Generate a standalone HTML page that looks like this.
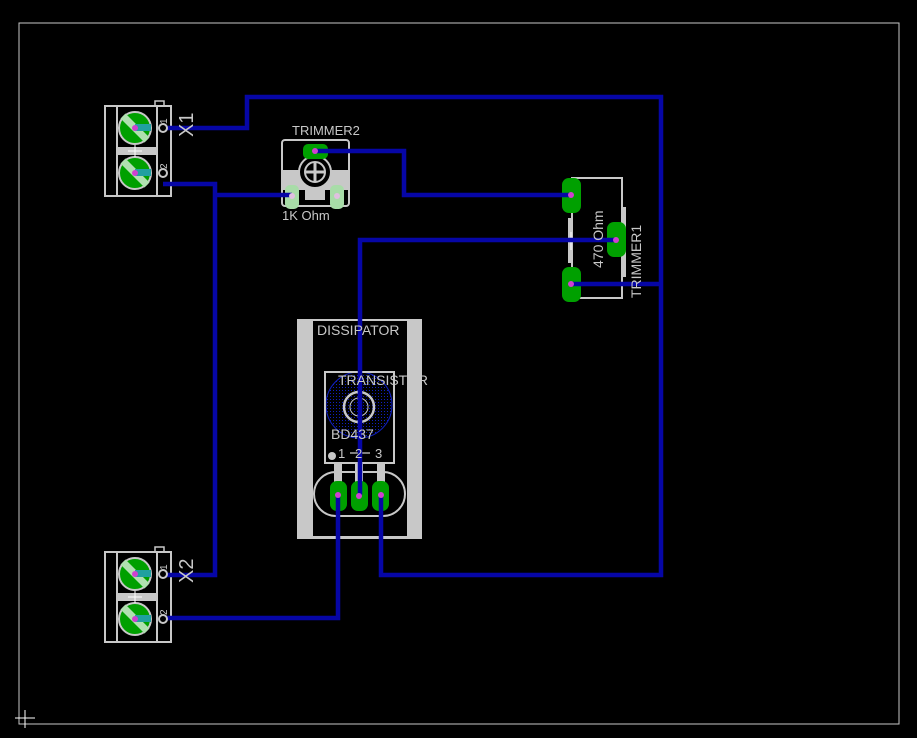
<!DOCTYPE html>
<html><head><meta charset="utf-8"><style>
html,body{margin:0;padding:0;background:#000;width:917px;height:738px;overflow:hidden}
svg{display:block}
text{font-family:"Liberation Sans",sans-serif;fill:#c8c8c8}
</style></head><body>
<svg width="917" height="738" viewBox="0 0 917 738" xmlns="http://www.w3.org/2000/svg">
<defs>
<pattern id="dots" width="3" height="3" patternUnits="userSpaceOnUse"><rect width="1" height="1" fill="#1020c0"/></pattern>
<g id="term">
  <rect x="105" y="0" width="66" height="90" fill="none" stroke="#c8c8c8" stroke-width="2"/>
  <line x1="117" y1="0" x2="117" y2="90" stroke="#c8c8c8" stroke-width="2"/>
  <line x1="157" y1="0" x2="157" y2="90" stroke="#c8c8c8" stroke-width="2"/>
  <rect x="155" y="-5" width="9" height="5" fill="none" stroke="#c8c8c8" stroke-width="1.5"/>
  <rect x="118" y="41" width="38" height="8" fill="#c8c8c8"/>
  <circle cx="135" cy="22" r="16" fill="#00a000" stroke="#c8c8c8" stroke-width="2"/>
  <circle cx="135" cy="67" r="16" fill="#00a000" stroke="#c8c8c8" stroke-width="2"/>
  <line x1="123" y1="10" x2="147" y2="34" stroke="#b0e0b0" stroke-width="7"/>
  <line x1="123" y1="55" x2="147" y2="79" stroke="#b0e0b0" stroke-width="7"/>
  <line x1="135" y1="39" x2="135" y2="51" stroke="#fff"/><line x1="128" y1="45" x2="142" y2="45" stroke="#fff"/>
  <rect x="135" y="18" width="16" height="7" fill="#20a0a0"/>
  <rect x="135" y="63" width="16" height="7" fill="#20a0a0"/>
  <circle cx="135" cy="22" r="3" fill="#d040d0"/>
  <circle cx="135" cy="67" r="3" fill="#d040d0"/>
</g>
</defs>
<rect x="19" y="23" width="880" height="701" fill="none" stroke="#c8c8c8" stroke-width="1"/>
<line x1="25" y1="710" x2="25" y2="728" stroke="#fff"/><line x1="15" y1="718" x2="35" y2="718" stroke="#fff"/>

<use href="#term" transform="translate(0,106)"/>
<use href="#term" transform="translate(0,552)"/>

<!-- trimmer2 -->
<rect x="282" y="140" width="67" height="66" rx="3" fill="none" stroke="#c8c8c8" stroke-width="2"/>
<rect x="283" y="170" width="65" height="20" fill="#c8c8c8"/>
<rect x="305" y="190" width="20" height="10" fill="#c8c8c8"/>
<circle cx="315" cy="172" r="16" fill="#000" stroke="#c8c8c8" stroke-width="2"/>
<circle cx="315" cy="172" r="10" fill="none" stroke="#c8c8c8" stroke-width="2"/>
<line x1="315" y1="162" x2="315" y2="182" stroke="#c8c8c8" stroke-width="3"/><line x1="305" y1="172" x2="325" y2="172" stroke="#c8c8c8" stroke-width="3"/>
<rect x="303" y="144" width="25" height="15" rx="5" fill="#00a000"/>
<rect x="285" y="185" width="14" height="24" rx="5" fill="#a8dca8"/>
<rect x="330" y="185" width="14" height="24" rx="5" fill="#a8dca8"/>
<text x="292" y="135" font-size="13">TRIMMER2</text>
<text x="282" y="220" font-size="13">1K Ohm</text>

<!-- trimmer1 -->
<rect x="572" y="178" width="50" height="120" fill="none" stroke="#c8c8c8" stroke-width="2"/>
<rect x="568" y="218" width="5" height="45" fill="#c8c8c8"/>
<rect x="621" y="207" width="5" height="70" fill="#c8c8c8"/>
<rect x="562" y="178" width="19" height="35" rx="7" fill="#00a000"/>
<rect x="562" y="267" width="19" height="35" rx="7" fill="#00a000"/>
<rect x="607" y="222" width="19" height="35" rx="7" fill="#00a000"/>
<line x1="563" y1="240" x2="580" y2="240" stroke="#fff"/><line x1="571" y1="232" x2="571" y2="250" stroke="#fff"/>

<!-- dissipator -->
<rect x="297" y="319" width="125" height="220" fill="#c8c8c8"/>
<rect x="313" y="321" width="94" height="215" fill="#000"/>
<circle cx="359" cy="405" r="33" fill="url(#dots)" stroke="#1020c0" stroke-width="1"/>
<rect x="325" y="372" width="69" height="91" fill="none" stroke="#c8c8c8" stroke-width="2"/>
<circle cx="359" cy="407" r="15" fill="none" stroke="#c8c8c8" stroke-width="2.5"/>
<circle cx="359" cy="407" r="9" fill="none" stroke="#c8c8c8" stroke-width="1"/>
<circle cx="332" cy="456" r="4" fill="#c8c8c8"/>
<line x1="350" y1="453" x2="370" y2="453" stroke="#fff"/>
<rect x="334" y="463" width="8" height="30" fill="#c8c8c8"/><rect x="355" y="463" width="8" height="30" fill="#c8c8c8"/><rect x="377" y="463" width="8" height="30" fill="#c8c8c8"/>
<rect x="314" y="472" width="91" height="44" rx="22" fill="none" stroke="#c8c8c8" stroke-width="2"/>
<rect x="330" y="481" width="17" height="30" rx="7" fill="#00a000"/>
<rect x="351" y="481" width="17" height="30" rx="7" fill="#00a000"/>
<rect x="372" y="481" width="17" height="30" rx="7" fill="#00a000"/>

<!-- wires -->
<g fill="none" stroke="#0606a6" stroke-width="4.5" stroke-linejoin="miter">
<polyline points="163,128 247,128 247,97 661,97 661,575 381,575 381,495"/>
<polyline points="163,184 215,184 215,575 163,575"/>
<polyline points="215,195 292,195"/>
<polyline points="315,151 404,151 404,195 571,195"/>
<polyline points="616,240 360,240 360,495"/>
<polyline points="571,284 661,284"/>
<polyline points="338,495 338,618 163,618"/>
</g>
<g fill="#000" stroke="#c8c8c8" stroke-width="2">
<circle cx="163" cy="128" r="4"/><circle cx="163" cy="173" r="4"/>
<circle cx="163" cy="574" r="4"/><circle cx="163" cy="619" r="4"/>
</g>
<g fill="#d040d0">
<circle cx="315" cy="151" r="3"/><circle cx="292" cy="196" r="3" fill="#e0c0e0"/><circle cx="337" cy="196" r="3" fill="#e0c0e0"/>
<circle cx="571" cy="195" r="3"/><circle cx="571" cy="284" r="3"/><circle cx="616" cy="240" r="3"/>
<circle cx="338" cy="495" r="3"/><circle cx="359" cy="496" r="3"/><circle cx="381" cy="495" r="3"/>
</g>

<!-- labels on top -->
<text font-size="20" transform="translate(193,137) rotate(-90)">X1</text>
<text font-size="20" transform="translate(193,583) rotate(-90)">X2</text>
<text font-size="10" transform="translate(167,124) rotate(-90)">1</text>
<text font-size="10" transform="translate(167,169) rotate(-90)">2</text>
<text font-size="10" transform="translate(167,570) rotate(-90)">1</text>
<text font-size="10" transform="translate(167,615) rotate(-90)">2</text>
<text font-size="14" transform="translate(603,268) rotate(-90)">470 Ohm</text>
<text font-size="14" transform="translate(641,298) rotate(-90)">TRIMMER1</text>
<text x="317" y="335" font-size="14">DISSIPATOR</text>
<text x="338" y="385" font-size="14">TRANSISTOR</text>
<text x="331" y="439" font-size="14">BD437</text>
<text x="338" y="458" font-size="13">1</text><text x="355" y="458" font-size="13">2</text><text x="375" y="458" font-size="13">3</text>
</svg>
</body></html>
